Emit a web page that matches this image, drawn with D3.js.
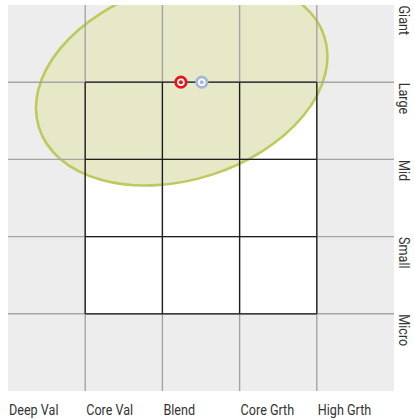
<!DOCTYPE html>
<html><head><meta charset="utf-8">
<script src="https://cdn.jsdelivr.net/npm/d3@7"></script>
<style>
html,body{margin:0;padding:0;background:#fff;}
text{font-family:"Roboto","Liberation Sans",sans-serif;fill:#333;}
</style></head>
<body>
<script>
const styleLabels = ["Deep Val","Core Val","Blend","Core Grth","High Grth"];
const styleTicks = [0,100,200,300,400];
const sizeLabels = ["Giant","Large","Mid","Small","Micro"];
const sizeTicks = [500,400,300,200,100];
const gridTicks = [100,200,300,400];
// ellipse in data units: center, semi-axes, angle (deg, counterclockwise)
const ellipseCenter = [225,400];
const ellipseAxes = [194,126];
const ellipseAngle = [17.7];
const points = [
  {name:"Fund", x:224, y:400, color:"#e8141c"},
  {name:"Index", x:251, y:400, color:"#a3b9d6"}
];

const W=414,H=420;
const svg=d3.select("body").append("svg").attr("width",W).attr("height",H);
const x=d3.scaleLinear().domain([0,500]).range([8,394]);
const y=d3.scaleLinear().domain([0,500]).range([391,5]);

svg.append("defs").append("clipPath").attr("id","plot")
  .append("rect").attr("x",x(0)).attr("y",y(500)).attr("width",x(500)-x(0)).attr("height",y(0)-y(500));

svg.append("rect").attr("x",x(0)).attr("y",y(500)).attr("width",x(500)-x(0)).attr("height",y(0)-y(500)).attr("fill","#ededed");
svg.append("rect").attr("x",x(100)).attr("y",y(400)).attr("width",x(400)-x(100)).attr("height",y(100)-y(400)).attr("fill","#fff");

const k = x(1)-x(0);
svg.append("g").attr("clip-path","url(#plot)")
  .append("ellipse")
  .attr("cx",0).attr("cy",0)
  .attr("rx",ellipseAxes[0]*k).attr("ry",ellipseAxes[1]*k)
  .attr("transform",`translate(${x(ellipseCenter[0])},${y(ellipseCenter[1])}) rotate(${-ellipseAngle[0]})`)
  .attr("fill","#e6e8c7").attr("stroke","#bfc95e").attr("stroke-width",2.6);

const g=svg.append("g");
g.selectAll(".vg").data(gridTicks).enter().append("line")
  .attr("x1",d=>x(d)).attr("x2",d=>x(d)).attr("y1",y(500)).attr("y2",y(0))
  .attr("stroke","#a5a5a5").attr("stroke-width",1.4);
g.selectAll(".hg").data(gridTicks).enter().append("line")
  .attr("y1",d=>y(d)).attr("y2",d=>y(d)).attr("x1",x(0)).attr("x2",x(500))
  .attr("stroke","#a5a5a5").attr("stroke-width",1.4);
g.selectAll(".vb").data(gridTicks).enter().append("line")
  .attr("x1",d=>x(d)).attr("x2",d=>x(d)).attr("y1",y(400)).attr("y2",y(100))
  .attr("stroke","#1e1e1e").attr("stroke-width",1.3);
g.selectAll(".hb").data(gridTicks).enter().append("line")
  .attr("y1",d=>y(d)).attr("y2",d=>y(d)).attr("x1",x(100)).attr("x2",x(400))
  .attr("stroke","#1e1e1e").attr("stroke-width",1.3);

const pts=svg.selectAll(".pt").data(points).enter().append("g")
  .attr("transform",d=>`translate(${x(d.x)},${y(d.y)})`);
pts.append("circle").attr("r",5.2).attr("fill","#fff").attr("stroke",d=>d.color).attr("stroke-width",2.8);
pts.append("circle").attr("r",2).attr("fill",d=>d.color);

svg.selectAll(".xl").data(styleLabels).enter().append("text")
  .attr("transform",(d,i)=>`translate(${x(styleTicks[i])+1},414.5) scale(0.84,1)`)
  .attr("font-size",15).text(d=>d);

svg.selectAll(".yl").data(sizeLabels).enter().append("text")
  .attr("transform",(d,i)=>`translate(399,${y(sizeTicks[i])+0.5}) rotate(90) scale(0.84,1)`)
  .attr("font-size",15).text(d=>d);
</script>
</body></html>
